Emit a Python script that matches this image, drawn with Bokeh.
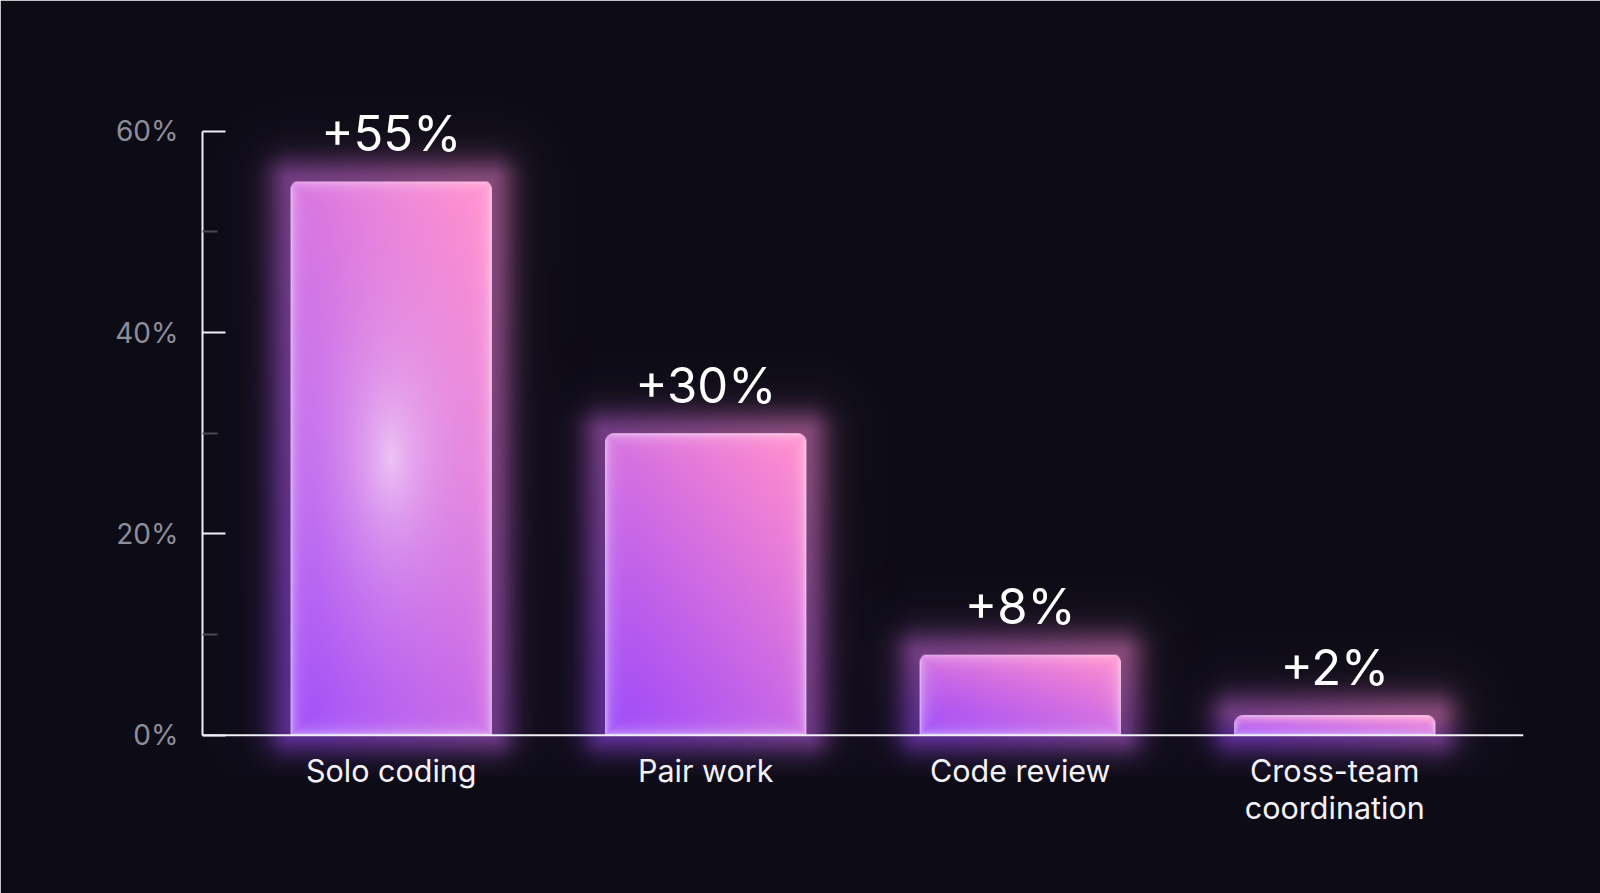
import numpy as np
from bokeh.plotting import figure
from bokeh.models import FactorRange, Range1d, FixedTicker, Span, ColumnDataSource
from bokeh.transform import dodge
from bokeh.core.properties import value
from bokeh.embed import file_html
from bokeh.resources import INLINE

# ---------------- data ----------------
categories = ["Solo coding", "Pair work", "Code review", "Cross-team\ncoordination"]
gains = [55, 30, 8, 2]
gain_labels = ["+55%", "+30%", "+8%", "+2%"]
y_ticks = [0, 20, 40, 60]
y_minor_ticks = [10, 30, 50]
y_tick_labels = ["0%", "20%", "40%", "60%"]

# ---------------- style ----------------
BG = "#0d0c16"
FONT = "Inter"
BAR_W = 0.64
W, H = 1600, 893
PAD = 0.1
Y_START, Y_END = -4.0, 70
MB_L, MB_R, MB_T, MB_B = 202, 77, 30, 118
PX_X = (W - MB_L - MB_R) / (len(categories) + 2 * PAD)   # image resolution (px per category unit)
PX_Y = (H - MB_T - MB_B) / (Y_END - Y_START)              # image resolution (px per % unit)

VIOLET = np.array([160.0, 74.0, 248.0])
PINK = np.array([255.0, 140.0, 206.0])


def pack(rgb, a):
    r = np.clip(rgb[..., 0], 0, 255).astype(np.uint32)
    g = np.clip(rgb[..., 1], 0, 255).astype(np.uint32)
    b = np.clip(rgb[..., 2], 0, 255).astype(np.uint32)
    A = np.clip(a * 255, 0, 255).astype(np.uint32)
    return (A << 24) | (b << 16) | (g << 8) | r


def grad_t(u, v):
    return np.clip(0.5 * u + 0.62 * v - 0.06, 0, 1)


def bar_image(v, spotlight):
    w = int(round(BAR_W * PX_X))
    h = max(int(round(v * PX_Y)), 2)
    yy, xx = np.mgrid[0:h, 0:w].astype(float) + 0.5
    u = xx / w
    vv = yy / h
    t = grad_t(u, vv)
    col = VIOLET * (1 - t)[..., None] + PINK * t[..., None]
    d = np.minimum.reduce([xx, w - xx, yy, h - yy])
    rim = 0.40 * np.exp(-d / 7.0) + 0.25 * np.exp(-d / 1.2)
    col = col * (1 - rim[..., None]) + 255 * rim[..., None]
    if spotlight:
        sx = (xx - w / 2) / 60.0
        sy = (yy - h * 0.5) / 135.0
        s = 0.72 * np.exp(-1.25 * np.sqrt(sx ** 2 + sy ** 2))
        col = col * (1 - s[..., None]) + np.array([250.0, 232.0, 252.0]) * s[..., None]
    R = 9.0
    cx = np.where(xx < R, R, np.where(xx > w - R, w - R, xx))
    cy = np.where(yy > h - R, h - R, yy)
    dist = np.hypot(xx - cx, yy - cy)
    alpha = np.clip(R - dist + 0.5, 0, 1)
    return pack(col, alpha)


G_SIDE, G_BOT = 100, 45


def glow_image(v):
    w = int(round(BAR_W * PX_X))
    h = max(int(round(v * PX_Y)), 2)
    Wg, Hg = w + 2 * G_SIDE, h + G_SIDE + G_BOT
    yy, xx = np.mgrid[0:Hg, 0:Wg].astype(float) + 0.5
    x = xx - G_SIDE
    y = yy - G_BOT
    cx = np.clip(x, 0, w)
    cy = np.clip(y, 0, h)
    dx = x - cx
    dy = np.where(y < 0, (y - cy) * 1.15, y - cy)
    d = np.hypot(dx, dy)
    t = grad_t(cx / w, cy / h) * 0.85
    col = VIOLET * (1 - t)[..., None] + PINK * t[..., None]
    a = 0.42 * np.exp(-(d / 24.0) ** 2) + 0.11 * np.exp(-d / 30.0)
    return pack(col, a)


src = ColumnDataSource(dict(
    cat=categories,
    gain=gains,
    label=gain_labels,
    bar_img=[bar_image(v, i == int(np.argmax(gains))) for i, v in enumerate(gains)],
    glow_img=[glow_image(v) for v in gains],
    glow_h=[v + (G_SIDE + G_BOT) / PX_Y for v in gains],
))

p = figure(
    width=W, height=H,
    x_range=FactorRange(factors=categories, range_padding=PAD, range_padding_units="absolute"),
    y_range=Range1d(Y_START, Y_END),
    output_backend="svg", toolbar_location=None,
    min_border_left=MB_L, min_border_right=MB_R, min_border_top=MB_T, min_border_bottom=MB_B,
)
p.background_fill_color = BG
p.border_fill_color = BG
p.outline_line_color = BG
p.outline_line_width = 3
p.grid.visible = False

# glow behind bars
p.image_rgba(image="glow_img", source=src,
             x=dodge("cat", -(BAR_W / 2 + G_SIDE / PX_X), range=p.x_range),
             y=-G_BOT / PX_Y, dw=BAR_W + 2 * G_SIDE / PX_X, dh="glow_h")

# bars (gradient fill)
p.image_rgba(image="bar_img", source=src,
             x=dodge("cat", -BAR_W / 2, range=p.x_range),
             y=0, dw=BAR_W, dh="gain")

# value labels
p.text(x="cat", y="gain", text="label", source=src,
       text_font=value(FONT), text_font_size="49px", text_color="#ffffff",
       text_align="center", text_baseline="alphabetic", y_offset=-48)

# baseline
p.add_layout(Span(location=0, dimension="width", line_color="#f2f0f6", line_width=2))

# y axis
ya = p.yaxis[0]
ya.bounds = (0, 60)
ya.ticker = FixedTicker(ticks=y_ticks, minor_ticks=y_minor_ticks)
ya.major_label_overrides = {t: s for t, s in zip(y_ticks, y_tick_labels)}
ya.axis_line_color = "#f2f0f6"
ya.axis_line_width = 2
ya.major_tick_in = 23
ya.major_tick_out = 0
ya.major_tick_line_color = "#f2f0f6"
ya.major_tick_line_width = 2
ya.minor_tick_in = 15
ya.minor_tick_out = 0
ya.minor_tick_line_color = "#4a4958"
ya.minor_tick_line_width = 2
ya.major_label_text_font = FONT
ya.major_label_text_font_size = "28px"
ya.major_label_text_color = "#8e8d9a"
ya.major_label_standoff = 24

# x axis
xa = p.xaxis[0]
xa.axis_line_color = None
xa.major_tick_line_color = None
xa.minor_tick_line_color = None
xa.major_label_text_font = FONT
xa.major_label_text_font_size = "30.5px"
xa.major_label_text_color = "#f4f2f8"
xa.major_label_text_line_height = 1.0
xa.major_label_standoff = -30

open("out.html", "w").write(file_html(p, INLINE))
